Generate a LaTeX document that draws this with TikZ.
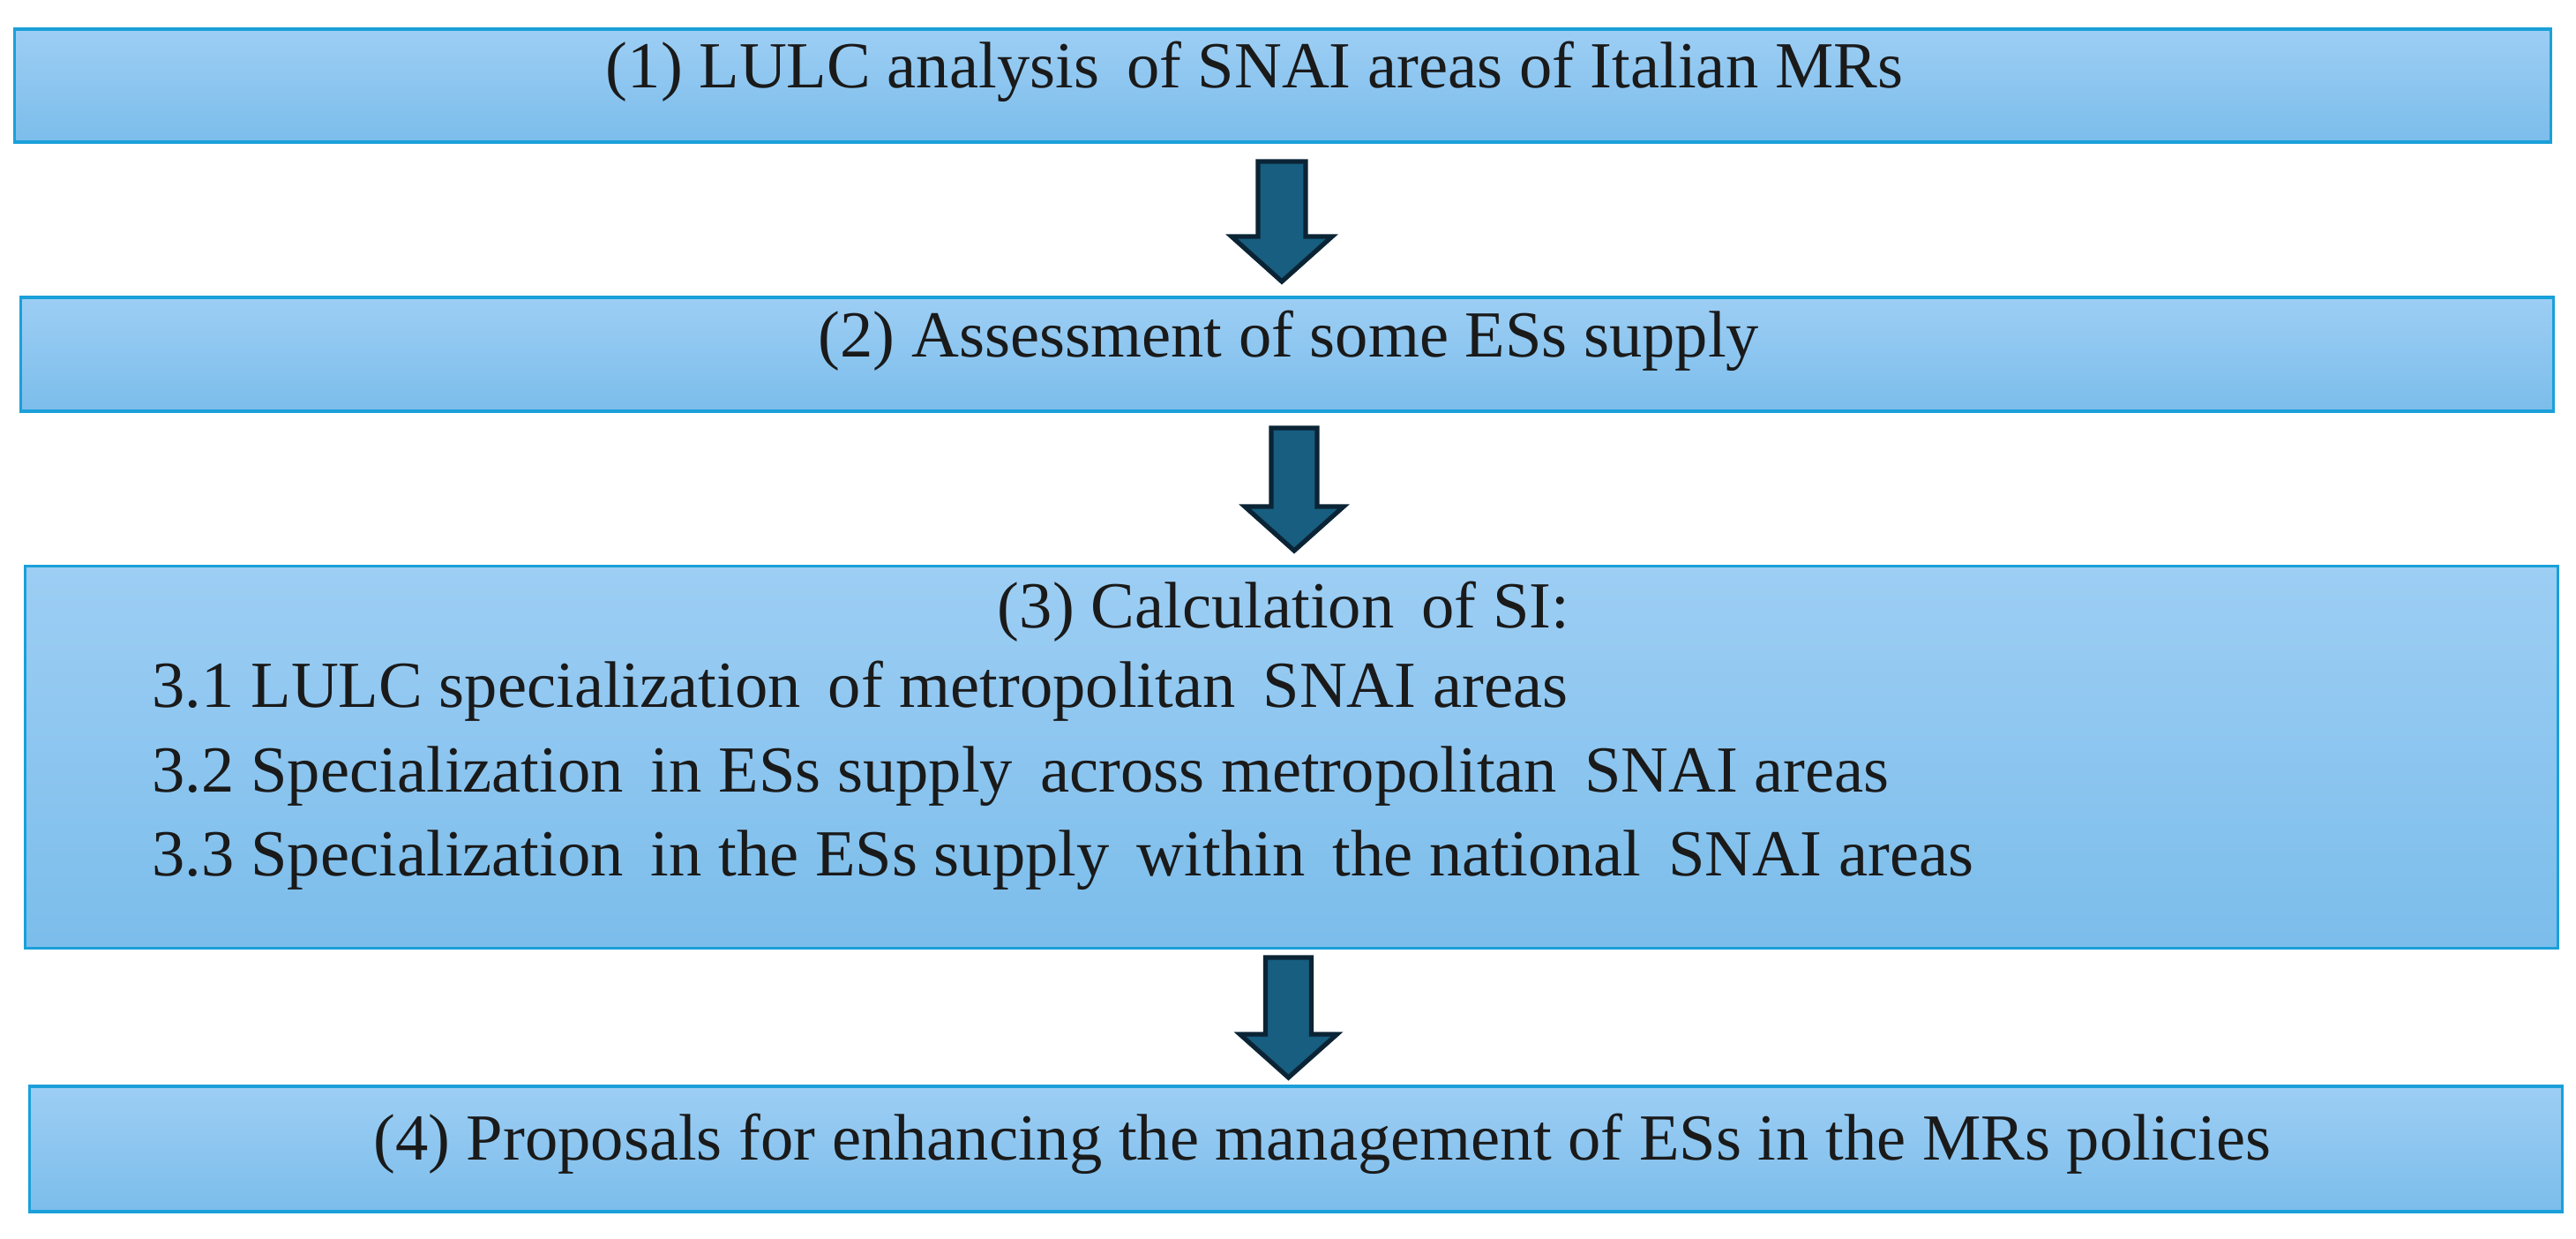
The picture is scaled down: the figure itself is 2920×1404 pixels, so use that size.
\documentclass[tikz,border=0pt]{standalone}
\usepackage{fontspec}
\setmainfont{Liberation Serif}
\definecolor{boxtop}{HTML}{9DCEF4}
\definecolor{boxmid}{HTML}{8EC2EA}
\definecolor{boxbot}{HTML}{7BBDEB}
\definecolor{boxline}{HTML}{1AA0D9}
\definecolor{arrfill}{HTML}{175E80}
\definecolor{arrline}{HTML}{0B2435}
\definecolor{txt}{HTML}{1A1A1A}
\newcommand\barrow[6]{\draw[blockarrow] ({#1-#5},#2) -- ({#1+#5},#2) -- ({#1+#5},#3) -- ({#1+#6},#3) -- (#1,#4) -- ({#1-#6},#3) -- ({#1-#5},#3) -- cycle;}
\begin{document}
\begin{tikzpicture}[x=0.01cm,y=-0.01cm,
  stepbox/.style={draw=boxline, line width=0.9pt, top color=boxtop, middle color=boxmid, bottom color=boxbot, rectangle, inner sep=0pt},
  blockarrow/.style={draw=arrline, fill=arrfill, line width=1.5pt, line join=miter},
  steptext/.style={inner sep=0pt, text=txt, font=\fontsize{21.2}{25}\selectfont, anchor=base}]
\useasboundingbox (0,0) rectangle (2920,1404);
\fill[white] (0,0) rectangle (2920,1404);
% boxes
\node[stepbox, minimum width=287.4mm, minimum height=12.8mm] (b1) at (1454,97) {};
\node[stepbox, minimum width=287.0mm, minimum height=12.9mm] (b2) at (1459,401.5) {};
\node[stepbox, minimum width=287.0mm, minimum height=43.2mm] (b3) at (1464,858) {};
\node[stepbox, minimum width=287.0mm, minimum height=14.2mm] (b4) at (1469,1302) {};
% texts
\node[steptext] (t1) at (1422,100) {(1) LULC analysis\, of SNAI areas of Italian MRs};
\node[steptext] (t2) at (1461,405) {(2) Assessment of some ESs supply};
\node[steptext] (t3) at (1455,712) {(3) Calculation\, of SI:};
\node[steptext, anchor=base west] (t31) at (172,802) {3.1 LULC specialization\, of metropolitan\, SNAI areas};
\node[steptext, anchor=base west] (t32) at (172,898) {3.2 Specialization\, in ESs supply\, across metropolitan\, SNAI areas};
\node[steptext, anchor=base west] (t33) at (172,993) {3.3 Specialization\, in the ESs supply\, within\, the national\, SNAI areas};
\node[steptext] (t4) at (1499,1315) {(4) Proposals for enhancing the management of ESs in the MRs policies};
% arrows
\barrow{1453}{183}{268}{319}{27}{57}
\barrow{1467}{485}{574}{624}{26}{56}
\barrow{1460.5}{1085}{1172}{1221}{26}{55}
\end{tikzpicture}
\end{document}
